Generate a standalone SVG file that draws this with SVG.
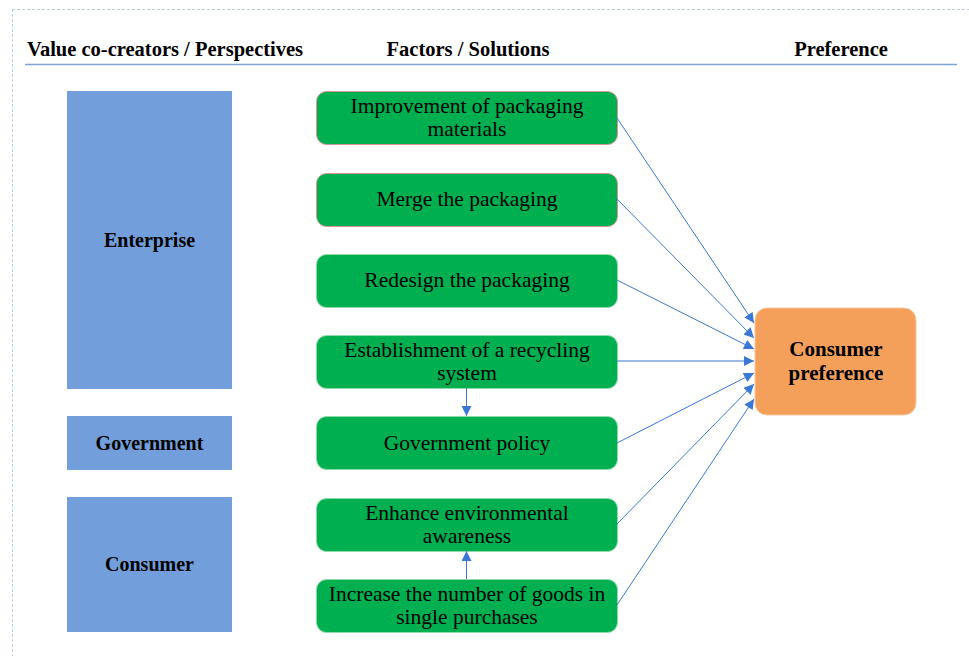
<svg xmlns="http://www.w3.org/2000/svg" width="969" height="656" viewBox="0 0 969 656">
<style>
  text { font-family: "Liberation Serif", "DejaVu Serif", serif; fill: #000; }
  .hdr { font-size: 20.5px; font-weight: bold; }
  .persp rect { fill: #729fdb; }
  .persp text { font-size: 20px; font-weight: bold; text-anchor: middle; }
  .fac rect { fill: #00b050; stroke: #8fd9a8; stroke-width: 1; }
  .fac rect.red { stroke: #d99594; }
  .fac text { font-size: 21.5px; text-anchor: middle; }
  .conn line { stroke: #3a78d6; stroke-width: 1; marker-end: url(#ah); }
</style>
<defs>
  <marker id="ah" viewBox="0 0 10 10" refX="10" refY="5" markerWidth="13" markerHeight="10" markerUnits="userSpaceOnUse" orient="auto">
    <path d="M0,0 L10,5 L0,10 z" fill="#3a78d6"/>
  </marker>
</defs>
<rect width="969" height="656" fill="#fff"/>
<path d="M12,9.5 H969 M12.5,9 V656" stroke="#b8cde8" stroke-width="1" stroke-dasharray="3,2" fill="none"/>
<g id="headers">
  <text class="hdr" x="27" y="56">Value co-creators / Perspectives</text>
  <text class="hdr" x="468" y="56" text-anchor="middle">Factors / Solutions</text>
  <text class="hdr" x="841" y="56" text-anchor="middle">Preference</text>
  <line x1="25" y1="64.5" x2="957" y2="64.5" stroke="#7ea3d6" stroke-width="1.5"/>
</g>
<g id="enterprise" class="persp"><rect x="67" y="91" width="165" height="298"/><text x="149.5" y="247">Enterprise</text></g>
<g id="government" class="persp"><rect x="67" y="416" width="165" height="54"/><text x="149.5" y="450">Government</text></g>
<g id="consumer" class="persp"><rect x="67" y="497" width="165" height="135"/><text x="149.5" y="571">Consumer</text></g>

<g id="f1" class="fac"><rect class="red" x="316.5" y="91.5" width="301" height="53" rx="10"/><text x="467" y="113">Improvement of packaging</text><text x="467" y="136">materials</text></g>
<g id="f2" class="fac"><rect class="red" x="316.5" y="173.5" width="301" height="53" rx="10"/><text x="467" y="206">Merge the packaging</text></g>
<g id="f3" class="fac"><rect x="316.5" y="254.5" width="301" height="53" rx="10"/><text x="467" y="287">Redesign the packaging</text></g>
<g id="f4" class="fac"><rect x="316.5" y="335.5" width="301" height="53" rx="10"/><text x="467" y="357">Establishment of a recycling</text><text x="467" y="380">system</text></g>
<g id="f5" class="fac"><rect x="316.5" y="416.5" width="301" height="53" rx="10"/><text x="467" y="450">Government policy</text></g>
<g id="f6" class="fac"><rect x="316.5" y="498.5" width="301" height="53" rx="10"/><text x="467" y="520">Enhance environmental</text><text x="467" y="543">awareness</text></g>
<g id="f7" class="fac"><rect x="316.5" y="579.5" width="301" height="53" rx="10"/><text x="467" y="601">Increase the number of goods in</text><text x="467" y="624">single purchases</text></g>

<g id="pref"><rect x="755" y="308" width="161" height="107" rx="12" fill="#f4a05a" stroke="#f8c9a0" stroke-width="1"/>
  <text x="836" y="356" font-size="21" font-weight="bold" text-anchor="middle">Consumer</text>
  <text x="836" y="380" font-size="21" font-weight="bold" text-anchor="middle">preference</text></g>

<g id="connectors" class="conn">
  <line x1="617" y1="118" x2="754" y2="323"/>
  <line x1="617" y1="199" x2="754" y2="338"/>
  <line x1="617" y1="280" x2="754" y2="349"/>
  <line x1="617" y1="361" x2="754" y2="361"/>
  <line x1="617" y1="443" x2="754" y2="373"/>
  <line x1="617" y1="524" x2="754" y2="384"/>
  <line x1="617" y1="605" x2="754" y2="399"/>
  <line x1="466.5" y1="388" x2="466.5" y2="416"/>
  <line x1="466.5" y1="579" x2="466.5" y2="551"/>
</g>
</svg>
